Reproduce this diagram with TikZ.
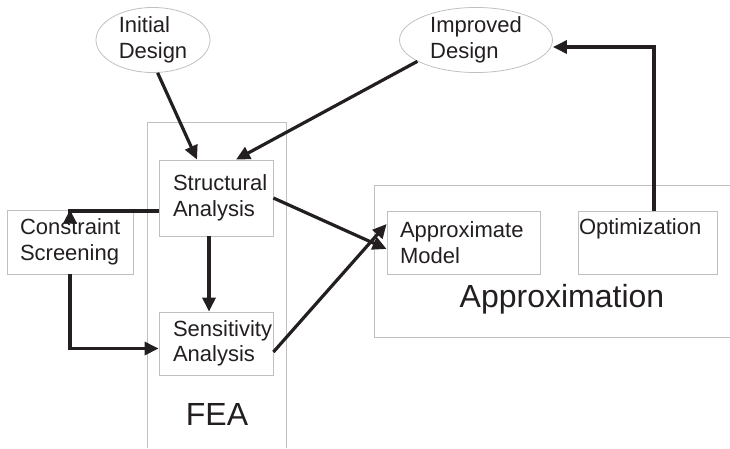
\documentclass[tikz,border=0pt]{standalone}
\usepackage{fontspec}
\setmainfont{Liberation Sans}
\usetikzlibrary{arrows.meta,shapes.geometric}
\definecolor{boxgray}{RGB}{192,192,192}
\definecolor{ink}{RGB}{35,31,32}
\hyphenpenalty=10000
\tikzset{
  lbl/.style={font=\fontsize{22}{25.5}\selectfont, text=ink},
  box/.style={lbl, draw=boxgray, line width=0.8pt, inner ysep=0pt, align=left},
  oval/.style={lbl, ellipse, draw=boxgray, line width=0.8pt, inner sep=0pt, align=left},
  frame/.style={draw=boxgray, line width=0.8pt},
  big/.style={font=\fontsize{32}{38}\selectfont, text=ink},
  flow/.style={draw=ink, line width=3.2pt, -{Triangle[length=14pt,width=13pt]}}
}
\begin{document}
\begin{tikzpicture}[x=1pt,y=1pt,yscale=-1]
\useasboundingbox (0,0) rectangle (730,448);

%Shape: Rectangle [FEA]
\draw[frame] (147,448) -- (147,122) -- (286,122) -- (286,448);
%Shape: Rectangle [Approximation]
\draw[frame] (730,185) -- (374,185) -- (374,337) -- (730,337);

%Shape: Ellipse
\node[oval, minimum width=114pt, minimum height=64pt] (init) at (153,40) {Initial\\Design};
\node[oval, minimum width=153pt, minimum height=64pt] (impr) at (476,40) {Improved\\Design};

%Shape: Rectangle
\node[box, inner xsep=14pt, text width=86pt, minimum height=76pt] (struct) at (216,198) {Structural\\Analysis};
\node[box, inner xsep=14pt, text width=86pt, minimum height=63pt] (sens) at (216,343.5) {Sensitivity\\Analysis};
\node[box, inner xsep=13pt, text width=100pt, minimum height=64pt] (screen) at (70,242) {Constraint\\Screening};
\node[box, inner xsep=13pt, text width=127pt, minimum height=63pt] (model) at (463.5,242.5) {Approximate\\Model};
\node[box, inner xsep=1pt, text width=137pt, minimum height=63pt, text depth=31pt] (optim) at (647.5,242.5) {Optimization};

% Text Node
\node[big] (fea) at (217,414) {FEA};
% Text Node
\node[big] (approx) at (562,299) {Approximation};

%Straight Lines
\draw[flow] (init.-82) -- ([xshift=-19pt]struct.north);
\draw[flow] (impr.200) -- ([xshift=20pt]struct.north);
\draw[flow] ([yshift=13pt]struct.west) -| (screen.north);
\draw[flow] (screen.south) |- ([yshift=5pt]sens.west);
\draw[flow] ([xshift=-7pt]struct.south) -- ([xshift=-7pt]sens.north);
\draw[flow] (struct.east) -- ([yshift=6.5pt]model.west);
\draw[flow] ([yshift=8.5pt]sens.east) -- ([yshift=-18.5pt]model.west);
\draw[flow] ([xshift=6.5pt]optim.north) |- ([yshift=7pt]impr.east);

\end{tikzpicture}
\end{document}
